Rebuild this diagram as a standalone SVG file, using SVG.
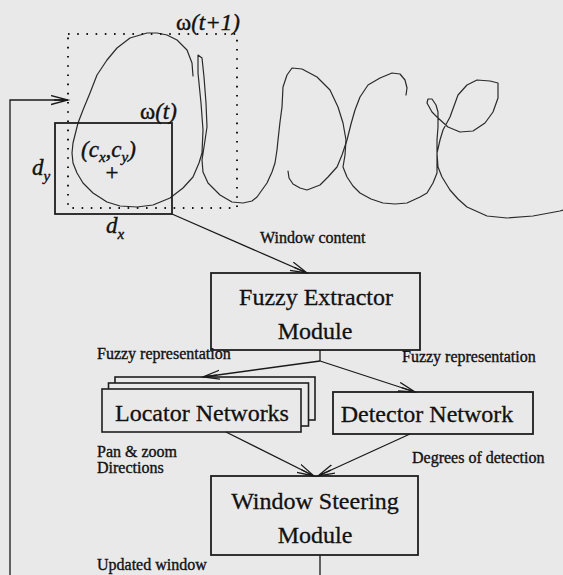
<svg xmlns="http://www.w3.org/2000/svg" width="563" height="575" viewBox="0 0 563 575">
  <defs>
    <marker id="arrow" markerWidth="20" markerHeight="12" refX="17" refY="5" orient="auto" markerUnits="userSpaceOnUse">
      <path d="M0,0.5 L17,5 L0,9.5 M3,5 L17,5" fill="none" stroke="#1a1a1a" stroke-width="1.3"/>
    </marker>
    <style>
      .bg { fill: #e9e9e9; }
      .box { fill: none; stroke: #1e1e1e; stroke-width: 1.8; }
      .stackbox { fill: #e9e9e9; stroke: #1e1e1e; stroke-width: 1.6; }
      .edge { fill: none; stroke: #1a1a1a; stroke-width: 1.3; }
      .ink { fill: none; stroke: #2a2a2a; stroke-width: 1.2; stroke-linejoin: round; stroke-linecap: round; }
      .dotted { fill: none; stroke: #1a1a1a; stroke-width: 2; stroke-dasharray: 1.6 7.6; }
      .title { font-family: "Liberation Serif", "Times New Roman", serif; font-size: 24px; fill: #111; stroke: #111; stroke-width: 0.3; text-anchor: middle; }
      .label { font-family: "Liberation Serif", "Times New Roman", serif; font-size: 16px; fill: #111; stroke: #111; stroke-width: 0.35; }
      .math { font-family: "Liberation Serif", "Times New Roman", serif; font-size: 23px; fill: #111; stroke: #111; stroke-width: 0.4; }
      .it { font-style: italic; }
    </style>
  </defs>

  <rect class="bg" x="0" y="0" width="563" height="575"/>

  <!-- pen trajectory of the handwritten word -->
  <g id="handwriting">
    <path class="ink" d="M193,76 L192,63 L187,50 L177,40 L167,35 L157,33 L147,33 L130,38 L117,48 L107,60 L97,75 L90,93 L83,110 L78,123 L73,143 L72,153 L73,163 L77,173 L83,183 L93,193 L107,202 L120,206 L137,207 L153,205 L170,198 L183,188 L193,177 L199,163 L202,153 L203,130 L201,103 L198,73 L198,55 L202,58 L204,77 L206,103 L207,127 L204,147 L202,160 L203,172 L208,183 L220,195 L232,202 L243,203 L252,201 L257,197 L267,183 L272,172 L275,163 L277,150 L278,140 L280,122 L282,107 L283,87 L287,75 L292,68 L302,69 L317,77 L330,90 L338,107 L343,123 L346,140 L345,155 L343,167 L347,177 L353,186 L360,193 L371,199 L383,203 L395,204 L407,203 L420,197 L427,193 L433,183 L437,173 L437,160 L437,140 L438,127 L438,112 L436,105 L432,99 L428,99 L427,103 L432,112 L438,118 L448,127 L460,132 L473,131 L485,123 L493,112 L498,98 L498,83 L490,81 L477,80 L467,85 L458,95 L450,117 L443,130 L440,140 L437,153 L438,167 L442,177 L450,190 L458,199 L467,207 L487,216 L507,218 L533,216 L560,211 L563,210"/>
    <path class="ink" d="M288,171 L289,178 L293,184 L300,188 L307,190 L320,185 L328,177 L337,167 L342,155 L347,140 L351,124 L355,110 L360,97 L368,85 L380,78 L392,73 L400,74 L405,80 L407,88 L406,95"/>
  </g>

  <!-- next window position -->
  <g id="window-next">
    <rect class="dotted" x="68" y="34" width="169" height="174"/>
    <text class="math" x="176" y="30">ω<tspan class="it">(t+1)</tspan></text>
  </g>

  <!-- current window with its centre and size -->
  <g id="window-current">
    <rect class="box" x="55" y="123" width="117" height="91"/>
    <text class="math" x="140" y="119">ω<tspan class="it">(t)</tspan></text>
    <text class="math it" x="81" y="157">(c<tspan font-size="15" dy="5">x</tspan><tspan dy="-5">,c</tspan><tspan font-size="15" dy="5">y</tspan><tspan dy="-5">)</tspan></text>
    <text class="math" x="112" y="180" text-anchor="middle">+</text>
    <text class="math it" x="32" y="175">d<tspan font-size="15" dy="6">y</tspan></text>
    <text class="math it" x="106" y="233">d<tspan font-size="15" dy="6">x</tspan></text>
  </g>

  <g id="fuzzy-extractor">
    <rect class="box" x="211" y="273" width="209" height="77"/>
    <text class="title" x="316" y="305">Fuzzy Extractor</text>
    <text class="title" x="315" y="339">Module</text>
  </g>

  <g id="locator-networks">
    <rect class="stackbox" x="115" y="377" width="200" height="43"/>
    <rect class="stackbox" x="108.5" y="383" width="200" height="43"/>
    <rect class="stackbox" x="102" y="389" width="199" height="43"/>
    <text class="title" x="202" y="421">Locator Networks</text>
  </g>

  <g id="detector-network">
    <rect class="box" x="333" y="392" width="200" height="42"/>
    <text class="title" x="427" y="422">Detector Network</text>
  </g>

  <g id="window-steering">
    <rect class="box" x="211" y="476" width="207" height="79"/>
    <text class="title" x="315" y="509">Window Steering</text>
    <text class="title" x="315" y="543">Module</text>
  </g>

  <g id="connectors">
    <line class="edge" x1="172" y1="214" x2="307" y2="273" marker-end="url(#arrow)"/>
    <line class="edge" x1="320" y1="350" x2="320" y2="361"/>
    <line class="edge" x1="320" y1="361" x2="203" y2="377" marker-end="url(#arrow)"/>
    <line class="edge" x1="320" y1="361" x2="415" y2="392" marker-end="url(#arrow)"/>
    <line class="edge" x1="226" y1="432" x2="314" y2="476" marker-end="url(#arrow)"/>
    <line class="edge" x1="410" y1="434" x2="318" y2="476" marker-end="url(#arrow)"/>
    <polyline class="edge" points="320,555 320,575"/>
    <polyline class="edge" points="10,575 10,100 68,100" marker-end="url(#arrow)"/>
  </g>

  <g id="edge-labels">
    <text class="label" x="260" y="243">Window content</text>
    <text class="label" x="97" y="359">Fuzzy representation</text>
    <text class="label" x="402" y="362">Fuzzy representation</text>
    <text class="label" x="97" y="457">Pan &amp; zoom</text>
    <text class="label" x="97" y="473">Directions</text>
    <text class="label" x="412" y="463">Degrees of detection</text>
    <text class="label" x="97" y="570">Updated window</text>
  </g>
</svg>
